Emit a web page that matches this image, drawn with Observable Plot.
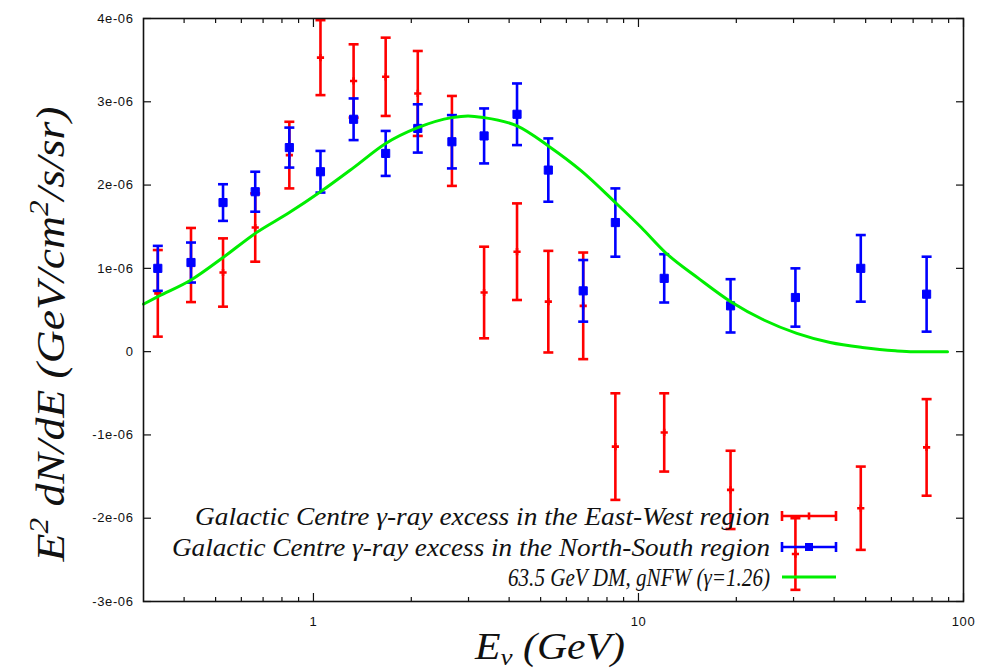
<!DOCTYPE html>
<html><head><meta charset="utf-8">
<script src="https://cdn.jsdelivr.net/npm/d3@7"></script>
<script src="https://cdn.jsdelivr.net/npm/@observablehq/plot@0.6"></script>
<style>body{margin:0;background:#fff}</style>
</head><body><div id="chart"></div>
<script>
// Energies (GeV) of the data bins
const energies = [0.332,0.420,0.527,0.662,0.843,1.051,1.329,1.668,2.094,2.667,3.35,4.23,5.28,6.76,8.49,12.0,19.2,30.4,48.3,77.0];
// East-West region (units of 1e-6 GeV/cm^2/s/sr)
const ewValues = [0.70,1.04,0.95,1.49,2.36,3.53,3.25,3.30,3.10,2.53,0.71,1.20,0.60,0.55,-1.14,-0.97,-1.66,-2.43,-1.88,-1.15];
const ewErrors = [0.52,0.445,0.41,0.41,0.40,0.45,0.44,0.47,0.51,0.54,0.55,0.58,0.61,0.64,0.64,0.47,0.47,0.43,0.50,0.58];
// North-South region
const nsValues = [1.00,1.07,1.79,1.92,2.45,2.16,2.79,2.38,2.68,2.52,2.59,2.85,2.18,0.73,1.55,0.88,0.55,0.65,1.00,0.69];
const nsErrors = [0.27,0.24,0.22,0.24,0.24,0.25,0.25,0.27,0.29,0.32,0.33,0.37,0.38,0.37,0.41,0.29,0.32,0.35,0.40,0.45];
// DM model curve
const modelE = [0.30,0.332,0.42,0.527,0.662,0.843,1.051,1.329,1.668,2.094,2.667,2.99,3.35,4.23,5.28,6.67,8.49,10.2,12.1,15.3,19.4,24.3,30.7,38.9,48.8,61.7,70,89.3];
const modelV = [0.57,0.66,0.86,1.13,1.42,1.67,1.92,2.21,2.50,2.69,2.81,2.83,2.81,2.71,2.47,2.17,1.79,1.49,1.19,0.88,0.59,0.38,0.22,0.11,0.05,0.01,0.0,0.0];
// Ticks
const xMajor = [1,10,100];
const xMajorLabels = ["1","10","100"];
const xMinor = [0.4,0.5,0.6,0.7,0.8,0.9,2,3,4,5,6,7,8,9,20,30,40,50,60,70,80,90];
const yTicks = [-3e-6,-2e-6,-1e-6,0,1e-6,2e-6,3e-6,4e-6];
const yTickLabels = ["-3e-06","-2e-06","-1e-06","0","1e-06","2e-06","3e-06","4e-06"];
const seriesNames = ["Galactic Centre \u03b3-ray excess in the East-West region","Galactic Centre \u03b3-ray excess in the North-South region","63.5 GeV DM, gNFW (\u03b3=1.26)"];

const U = 1e-6;
const ew = energies.map((E,i)=>({E, v: ewValues[i]*U, lo:(ewValues[i]-ewErrors[i])*U, hi:(ewValues[i]+ewErrors[i])*U}));
const ns = energies.map((E,i)=>({E, v: nsValues[i]*U, lo:(nsValues[i]-nsErrors[i])*U, hi:(nsValues[i]+nsErrors[i])*U}));
const model = modelE.map((E,i)=>({E, v: modelV[i]*U}));

const capSym = {draw(ctx, size){ const r = Math.sqrt(size/Math.PI); ctx.moveTo(-r,0); ctx.lineTo(r,0); }};
const plusSym = {draw(ctx, size){ const r = Math.sqrt(size/Math.PI); ctx.moveTo(-r,0); ctx.lineTo(r,0); ctx.moveTo(0,-r); ctx.lineTo(0,r); }};

const RED = "#ff0000", BLUE = "#0000ff", GREEN = "#00ee00";
const xFmt = d => xMajorLabels[xMajor.indexOf(d)];
const yFmt = d => yTickLabels[yTicks.findIndex(t => Math.abs(t-d) < 1e-9)];

const errMarks = (data, color) => [
  Plot.ruleX(data, {x:"E", y1:"lo", y2:"hi", stroke:color, strokeWidth:2.6}),
  Plot.dot(data, {x:"E", y:"lo", symbol:capSym, r:5, stroke:color, strokeWidth:2.6}),
  Plot.dot(data, {x:"E", y:"hi", symbol:capSym, r:5, stroke:color, strokeWidth:2.6})
];

const svg = Plot.plot({
  width: 999, height: 671,
  marginLeft: 143, marginRight: 36, marginTop: 18, marginBottom: 70,
  x: {type:"log", domain:[0.3,100]},
  y: {domain:[-3e-6,4e-6]},
  style: {background:"white", fontFamily:"'Liberation Sans', Arial, sans-serif", fontSize:"13px", color:"#111"},
  marks: [
    // tick marks (inward)
    Plot.axisX({anchor:"bottom", ticks:xMajor, tickSize:-8, fill:"none", label:null, stroke:"#111", strokeWidth:1.2}),
    Plot.axisX({anchor:"top", ticks:xMajor, tickSize:-8, fill:"none", label:null, stroke:"#111", strokeWidth:1.2}),
    Plot.axisX({anchor:"bottom", ticks:xMinor, tickSize:-4, fill:"none", label:null, stroke:"#111", strokeWidth:1.2}),
    Plot.axisX({anchor:"top", ticks:xMinor, tickSize:-4, fill:"none", label:null, stroke:"#111", strokeWidth:1.2}),
    Plot.axisY({anchor:"left", ticks:yTicks, tickSize:-8, fill:"none", label:null, stroke:"#111", strokeWidth:1.2}),
    Plot.axisY({anchor:"right", ticks:yTicks, tickSize:-8, fill:"none", label:null, stroke:"#111", strokeWidth:1.2}),
    // tick labels
    Plot.axisX({anchor:"bottom", ticks:xMajor, tickSize:0, tickPadding:15, tickFormat:xFmt, label:null, fontSize:13}),
    Plot.axisY({anchor:"left", ticks:yTicks, tickSize:0, tickPadding:10, tickFormat:yFmt, label:null, fontSize:13}),
    // East-West
    ...errMarks(ew, RED),
    Plot.dot(ew, {x:"E", y:"v", symbol:plusSym, r:3.6, stroke:RED, strokeWidth:2.6}),
    // North-South
    ...errMarks(ns, BLUE),
    Plot.dot(ns, {x:"E", y:"v", symbol:"square", r:4.6, fill:BLUE, stroke:BLUE, strokeWidth:1}),
    // Model
    Plot.line(model, {x:"E", y:"v", stroke:GREEN, strokeWidth:3, curve:"monotone-x"}),
    Plot.frame({stroke:"#111", strokeWidth:1.6})
  ]
});

const s = d3.select(svg);
s.selectAll("text").style("letter-spacing","0.6px");
const serif = "'Liberation Serif','Times New Roman',serif";
// Legend
const legendY = [516, 547, 577];
const lg = s.append("g").attr("font-family", serif).attr("font-style","italic").attr("font-size", 26).attr("fill","#111");
const lens = [575, 598, 262];
seriesNames.forEach((name,i)=>{
  lg.append("text").attr("x",770).attr("y",legendY[i]).attr("dy","0.35em").attr("text-anchor","end")
    .attr("textLength", lens[i]).attr("lengthAdjust","spacingAndGlyphs").text(name);
});
const x0 = 782, x1 = 836, xm = 809;
[[RED,0],[BLUE,1]].forEach(([c,i])=>{
  const y = legendY[i];
  const g = s.append("g").attr("stroke", c).attr("stroke-width", 2.6).attr("fill","none");
  g.append("line").attr("x1",x0).attr("x2",x1).attr("y1",y).attr("y2",y);
  g.append("line").attr("x1",x0).attr("x2",x0).attr("y1",y-5).attr("y2",y+5);
  g.append("line").attr("x1",x1).attr("x2",x1).attr("y1",y-5).attr("y2",y+5);
  if (i===0) g.append("line").attr("x1",xm).attr("x2",xm).attr("y1",y-3.6).attr("y2",y+3.6);
  else s.append("rect").attr("x",xm-4).attr("y",y-4).attr("width",8).attr("height",8).attr("fill",c);
});
s.append("line").attr("x1",x0).attr("x2",x1).attr("y1",legendY[2]).attr("y2",legendY[2]).attr("stroke",GREEN).attr("stroke-width",3);

// X label
const xl = s.append("text").attr("x",550).attr("y",659).attr("text-anchor","middle")
  .attr("textLength",150).attr("lengthAdjust","spacingAndGlyphs")
  .attr("font-family",serif).attr("font-style","italic").attr("font-size",37).attr("fill","#111");
xl.append("tspan").text("E");
xl.append("tspan").attr("font-size",24).attr("dy",6).text("\u03bd");
xl.append("tspan").attr("dy",-6).text(" (GeV)");
// Y label
const yl = s.append("text").attr("transform","translate(64,334) rotate(-90)").attr("text-anchor","middle")
  .attr("textLength",455).attr("lengthAdjust","spacingAndGlyphs")
  .attr("font-family",serif).attr("font-style","italic").attr("font-size",41).attr("fill","#111");
yl.append("tspan").text("E");
yl.append("tspan").attr("font-size",28).attr("dy",-16).text("2");
yl.append("tspan").attr("dy",16).text(" dN/dE (GeV/cm");
yl.append("tspan").attr("font-size",28).attr("dy",-16).text("2");
yl.append("tspan").attr("dy",16).text("/s/sr)");

document.getElementById("chart").appendChild(svg);
</script>
</body></html>
